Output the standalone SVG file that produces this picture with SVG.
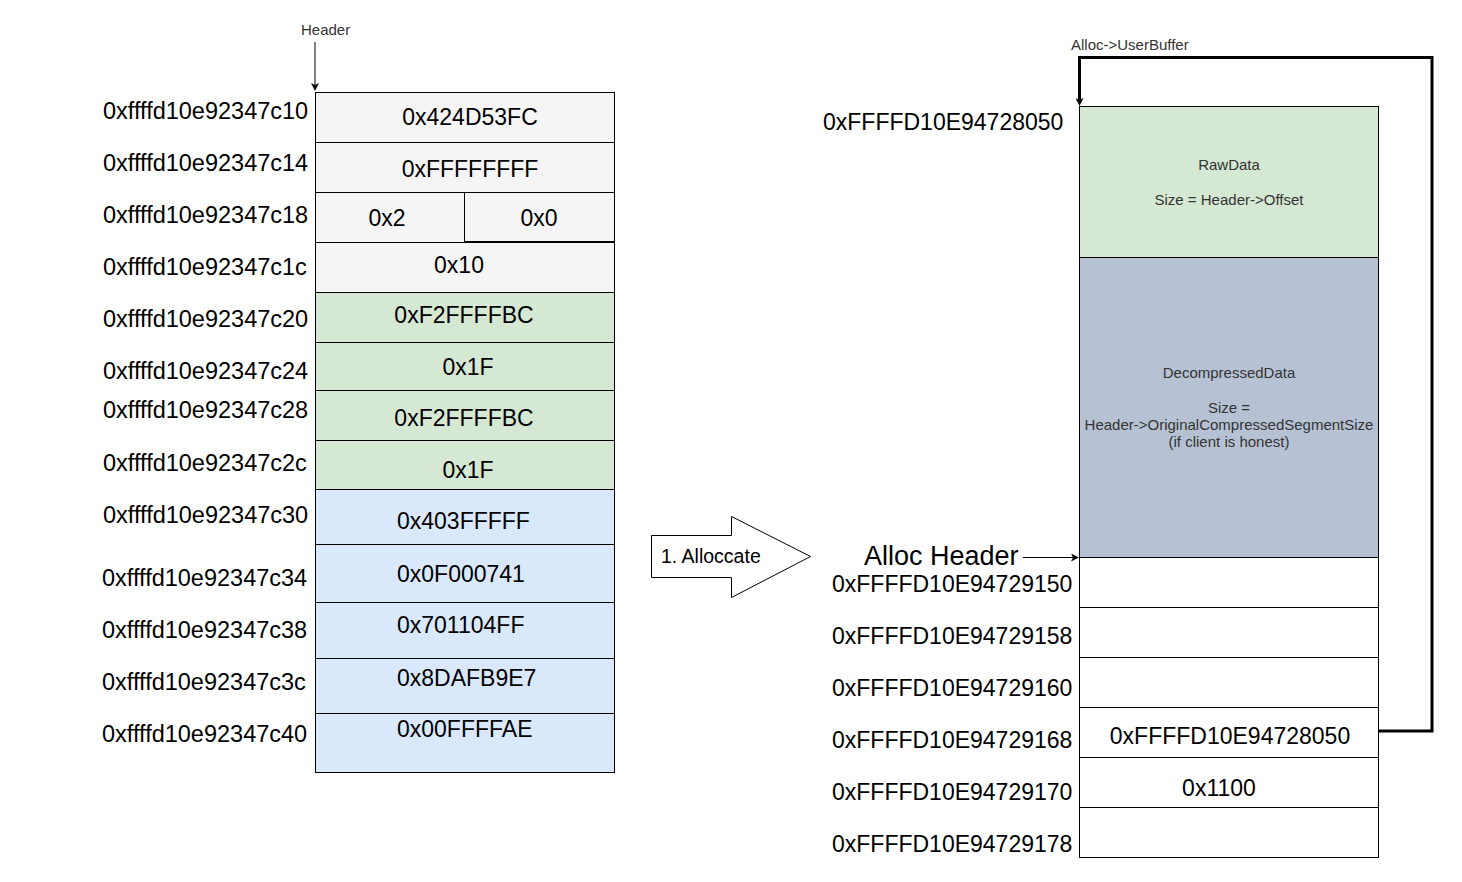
<svg xmlns="http://www.w3.org/2000/svg" width="1462" height="882" viewBox="0 0 1462 882">
<style>
text{font-family:"Liberation Sans",Arial,Helvetica,sans-serif;fill:#000}
.big{font-size:23px}
.addr{font-size:23.5px}
.small{font-size:15px;fill:#333}
.mid{text-anchor:middle}
.gray{fill:#f5f5f5;stroke:#000;stroke-width:1}
.green{fill:#d5e8d4;stroke:#000;stroke-width:1}
.blue{fill:#dae8fc;stroke:#000;stroke-width:1}
.slate{fill:#b6c2d4;stroke:#000;stroke-width:1}
.white{fill:#fff;stroke:#000;stroke-width:1}
.conn{fill:none;stroke:#000;stroke-width:1}
.thick{fill:none;stroke:#000;stroke-width:3}
</style>
<defs>
<marker id="arr" viewBox="0 0 8 8" markerWidth="8" markerHeight="8" markerUnits="userSpaceOnUse" refX="2" refY="4" orient="auto">
<path d="M0,0 L8,4 L0,8 L2,4 z" fill="#000"/>
</marker>
</defs>
<rect width="1462" height="882" fill="#fff"/>

<!-- left memory table -->
<g id="addr-labels-left" class="addr">
<text x="103" y="119">0xffffd10e92347c10</text>
<text x="103" y="171">0xffffd10e92347c14</text>
<text x="103" y="223">0xffffd10e92347c18</text>
<text x="103" y="275">0xffffd10e92347c1c</text>
<text x="103" y="327">0xffffd10e92347c20</text>
<text x="103" y="379">0xffffd10e92347c24</text>
<text x="103" y="418">0xffffd10e92347c28</text>
<text x="103" y="471">0xffffd10e92347c2c</text>
<text x="103" y="523">0xffffd10e92347c30</text>
<text x="102" y="586">0xffffd10e92347c34</text>
<text x="102" y="638">0xffffd10e92347c38</text>
<text x="102" y="690">0xffffd10e92347c3c</text>
<text x="102" y="742">0xffffd10e92347c40</text>
</g>

<g id="cell-c10"><rect class="gray" x="315.5" y="92.5" width="299" height="50"/><text class="big mid" x="470" y="125">0x424D53FC</text></g>
<g id="cell-c14"><rect class="gray" x="315.5" y="142.5" width="299" height="50"/><text class="big mid" x="470" y="177">0xFFFFFFFF</text></g>
<g id="cell-c18a"><rect class="gray" x="315.5" y="192.5" width="149" height="50"/><text class="big mid" x="387" y="226">0x2</text></g>
<g id="cell-c18b"><rect class="gray" x="464.5" y="192.5" width="150" height="50"/><line x1="464" y1="242" x2="615" y2="242" stroke="#000" stroke-width="2"/><text class="big mid" x="539" y="226">0x0</text></g>
<g id="cell-c1c"><rect class="gray" x="315.5" y="242.5" width="299" height="50"/><text class="big mid" x="459" y="273">0x10</text></g>
<g id="cell-c20"><rect class="green" x="315.5" y="292.5" width="299" height="50"/><text class="big mid" x="464" y="323">0xF2FFFFBC</text></g>
<g id="cell-c24"><rect class="green" x="315.5" y="342.5" width="299" height="48"/><text class="big mid" x="468" y="375">0x1F</text></g>
<g id="cell-c28"><rect class="green" x="315.5" y="390.5" width="299" height="50"/><text class="big mid" x="464" y="426">0xF2FFFFBC</text></g>
<g id="cell-c2c"><rect class="green" x="315.5" y="440.5" width="299" height="49"/><text class="big mid" x="468" y="478">0x1F</text></g>
<g id="cell-c30"><rect class="blue" x="315.5" y="489.5" width="299" height="55"/><text class="big" x="397" y="529">0x403FFFFF</text></g>
<g id="cell-c34"><rect class="blue" x="315.5" y="544.5" width="299" height="58"/><text class="big" x="397" y="582">0x0F000741</text></g>
<g id="cell-c38"><rect class="blue" x="315.5" y="602.5" width="299" height="56"/><text class="big" x="397" y="633">0x701104FF</text></g>
<g id="cell-c3c"><rect class="blue" x="315.5" y="658.5" width="299" height="55"/><text class="big" x="397" y="686">0x8DAFB9E7</text></g>
<g id="cell-c40"><rect class="blue" x="315.5" y="713.5" width="299" height="59"/><text class="big" x="397" y="737">0x00FFFFAE</text></g>

<g id="header-label"><text class="small" x="301" y="35">Header</text></g>

<!-- allocate arrow -->
<g id="allocate-arrow">
<polygon points="651.5,535.5 731.5,535.5 731.5,516.5 810.5,556.5 731.5,597.5 731.5,577.5 651.5,577.5" fill="#fff" stroke="#000" stroke-width="1"/>
<text x="661" y="563" style="font-size:19.5px">1. Alloccate</text>
</g>

<!-- right buffer -->
<g id="addr-labels-right" class="big">
<text x="823" y="130">0xFFFFD10E94728050</text>
<text x="832" y="592">0xFFFFD10E94729150</text>
<text x="832" y="644">0xFFFFD10E94729158</text>
<text x="832" y="696">0xFFFFD10E94729160</text>
<text x="832" y="748">0xFFFFD10E94729168</text>
<text x="832" y="800">0xFFFFD10E94729170</text>
<text x="832" y="852">0xFFFFD10E94729178</text>
</g>
<g id="alloc-header-label"><text x="864" y="565" style="font-size:27px">Alloc Header</text></g>
<g id="userbuffer-label"><text class="small" x="1071" y="50">Alloc-&gt;UserBuffer</text></g>

<g id="rawdata">
<rect class="green" x="1079.5" y="106.5" width="299" height="151"/>
<text class="small mid" x="1229" y="170">RawData</text>
<text class="small mid" x="1229" y="205">Size = Header-&gt;Offset</text>
</g>
<g id="decompressed">
<rect class="slate" x="1079.5" y="257.5" width="299" height="300"/>
<text class="small mid" x="1229" y="378">DecompressedData</text>
<text class="small mid" x="1229" y="413">Size =</text>
<text class="small mid" x="1229" y="430">Header-&gt;OriginalCompressedSegmentSize</text>
<text class="small mid" x="1229" y="447">(if client is honest)</text>
</g>
<g id="row-150"><rect class="white" x="1079.5" y="557.5" width="299" height="50"/></g>
<g id="row-158"><rect class="white" x="1079.5" y="607.5" width="299" height="50"/></g>
<g id="row-160"><rect class="white" x="1079.5" y="657.5" width="299" height="50"/></g>
<g id="row-168"><rect class="white" x="1079.5" y="707.5" width="299" height="50"/><text class="big mid" x="1230" y="744">0xFFFFD10E94728050</text></g>
<g id="row-170"><rect class="white" x="1079.5" y="757.5" width="299" height="50"/><text class="big mid" x="1219" y="796">0x1100</text></g>
<g id="row-178"><rect class="white" x="1079.5" y="807.5" width="299" height="50"/></g>

<!-- connectors -->
<g id="connectors">
<line class="conn" x1="315" y1="42" x2="315" y2="85" marker-end="url(#arr)"/>
<line class="conn" x1="1023" y1="557.5" x2="1073" y2="557.5" marker-end="url(#arr)"/>
<path class="thick" d="M1379,731 H1432 V57.5 H1079.5 V100" marker-end="url(#arr)"/>
</g>
</svg>
